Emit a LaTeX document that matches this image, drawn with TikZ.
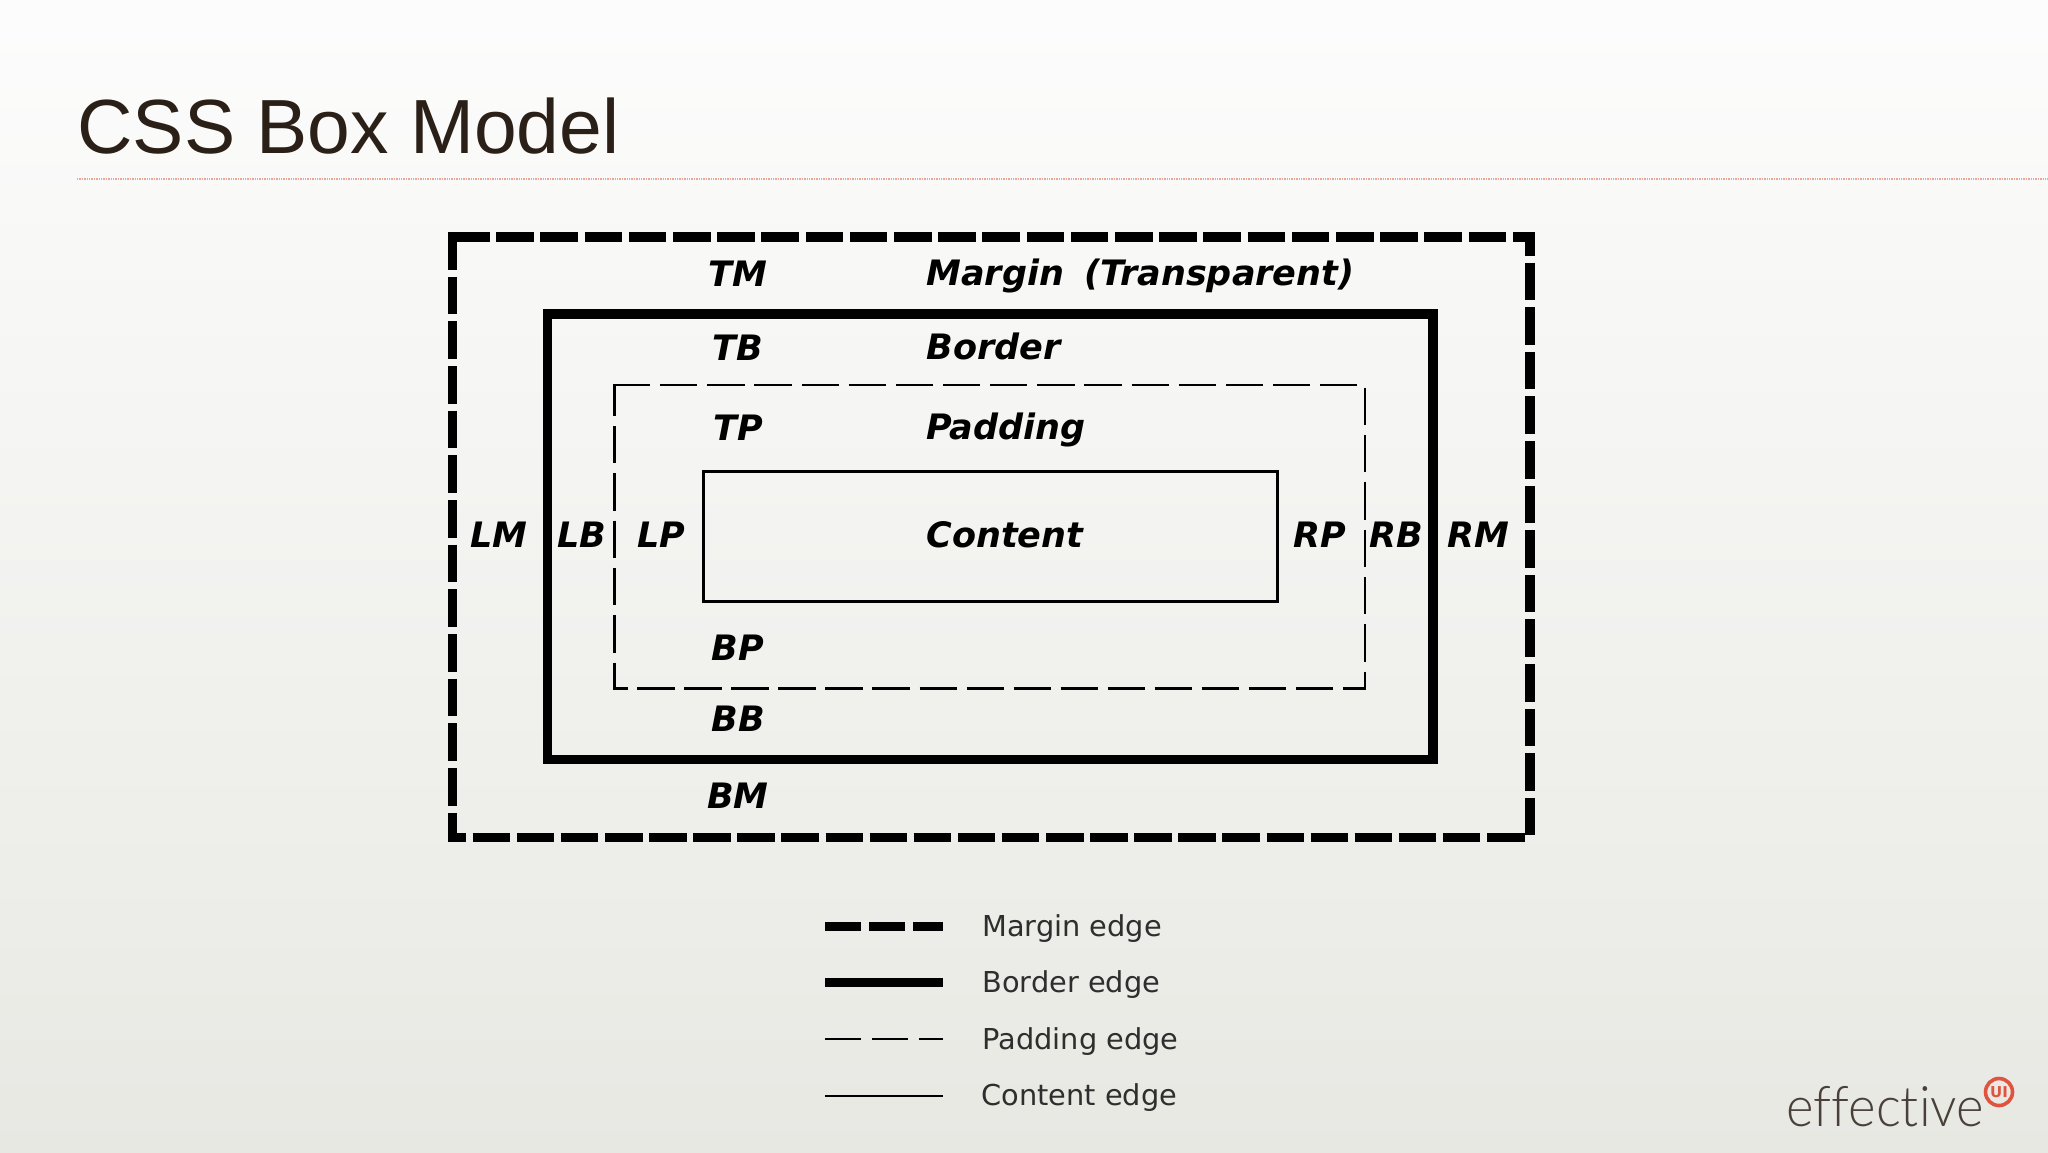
\documentclass[tikz,border=0pt]{standalone}
\usepackage{fontspec}
\setmainfont{DejaVu Sans}
\newfontfamily\titlefont{Liberation Sans}
\newfontfamily\logofont[Ligatures=NoCommon]{Lato Light}
\definecolor{titleink}{HTML}{2B2018}
\definecolor{rulered}{HTML}{E9A796}
\definecolor{logoink}{HTML}{4A403A}
\definecolor{logored}{HTML}{E0533F}
\definecolor{legendink}{HTML}{2E2E2E}
\tikzset{
  heavy/.style={line width=4.6pt,black},
  fine/.style={line width=1.35pt,black},
  boxlabel/.style={font=\fontsize{17.5}{20}\selectfont\bfseries\itshape,inner sep=0pt,anchor=base,text=black},
  namelabel/.style={boxlabel,anchor=base west},
  legendtext/.style={font=\fontsize{14.4}{17}\selectfont,inner sep=0pt,anchor=base west,text=legendink},
}
\begin{document}
\begin{tikzpicture}[x=0.5pt,y=-0.5pt]
\useasboundingbox (0,0) rectangle (2048,1152);
\shade[top color=white!99!black,bottom color={rgb,255:red,232;green,232;blue,227}] (0,0) rectangle (2048,1152);

\node[font=\titlefont\fontsize{38.4}{44}\selectfont,text=titleink,inner sep=0pt,anchor=base west] (title) at (77,153) {CSS Box Model};
\coordinate (ruleL) at (77,179);
\coordinate (ruleR) at (2048,179);
\draw[rulered,line width=0.7pt,dash pattern=on 0.7pt off 0.5pt] (ruleL) -- (ruleR);

% margin edge
\draw[heavy,dash pattern=on 18.75pt off 3.35pt] (452,237) -- (1534,237);
\draw[heavy,dash pattern=on 18.75pt off 3.585pt] (452.5,232) -- (452.5,842);
\draw[heavy,dash pattern=on 18.75pt off 3.55pt,dash phase=7pt] (1530,232) -- (1530,835);
\draw[heavy,dash pattern=on 18.75pt off 3.3pt,dash phase=9.7pt] (448,837.3) -- (1525,837.3);
% border edge
\draw[heavy,miter limit=4] (547.5,314) rectangle (1433,759.7);
% padding edge
\draw[fine,dash pattern=on 18.65pt off 4.92pt] (613,385) -- (1360,385);
\draw[fine,dash pattern=on 18.65pt off 5pt] (1365,387.7) -- (1365,690);
\draw[fine,dash pattern=on 18.65pt off 5pt,dash phase=3.15pt] (614.7,385) -- (614.7,690);
\draw[fine,dash pattern=on 18.65pt off 4.865pt,dash phase=11.35pt] (613,688.7) -- (1366,688.7);
% content edge
\draw[fine] (703.5,471.7) rectangle (1277.2,601.7);

\foreach \nm/\tx/\px/\py in {tm/TM/738/286,tb/TB/738/360,tp/TP/738/440,
  lm/LM/499/547,lb/LB/581.5/547,lp/LP/661/547,rp/RP/1320/547,rb/RB/1396.5/547,rm/RM/1478.5/547,
  bp/BP/738/660,bb/BB/738/731,bm/BM/738/808}
  \node[boxlabel] (\nm) at (\px,\py) {\tx};
\node[namelabel] (margin) at (926,285) {Margin\hspace{4pt} (Transparent)};
\node[namelabel] (border) at (926,359) {Border};
\node[namelabel] (padding) at (926,439) {Padding};
\node[namelabel] (content) at (926,547) {Content};

% legend
\coordinate (l1a) at (825,926.7); \coordinate (l1b) at (943,926.7);
\coordinate (l2a) at (825,982.7); \coordinate (l2b) at (943,982.7);
\coordinate (l3a) at (825,1039);  \coordinate (l3b) at (943,1039);
\coordinate (l4a) at (825,1096);  \coordinate (l4b) at (943,1096);
\draw[heavy,dash pattern=on 18pt off 4pt] (l1a) -- (l1b);
\draw[heavy] (l2a) -- (l2b);
\draw[fine,dash pattern=on 18pt off 5.5pt] (l3a) -- (l3b);
\draw[fine] (l4a) -- (l4b);
\node[legendtext] (lg1) at (982,936.7) {Margin edge};
\node[legendtext] (lg2) at (982,992.7) {Border edge};
\node[legendtext] (lg3) at (982,1049) {Padding edge};
\node[legendtext] (lg4) at (981,1105.5) {Content edge};

% logo
\node[font=\logofont\fontsize{28}{30}\selectfont,text=logoink,inner sep=0pt,anchor=base west] (logo) at (1786,1126.7) {\scalebox{0.94}[1]{effective}};
\node[draw=logored,line width=1.8pt,circle,minimum size=13.5pt,inner sep=0pt,text=logored,font=\fontsize{7.5}{8}\selectfont\bfseries] (logoui) at (1999,1092) {UI};
\end{tikzpicture}
\end{document}
